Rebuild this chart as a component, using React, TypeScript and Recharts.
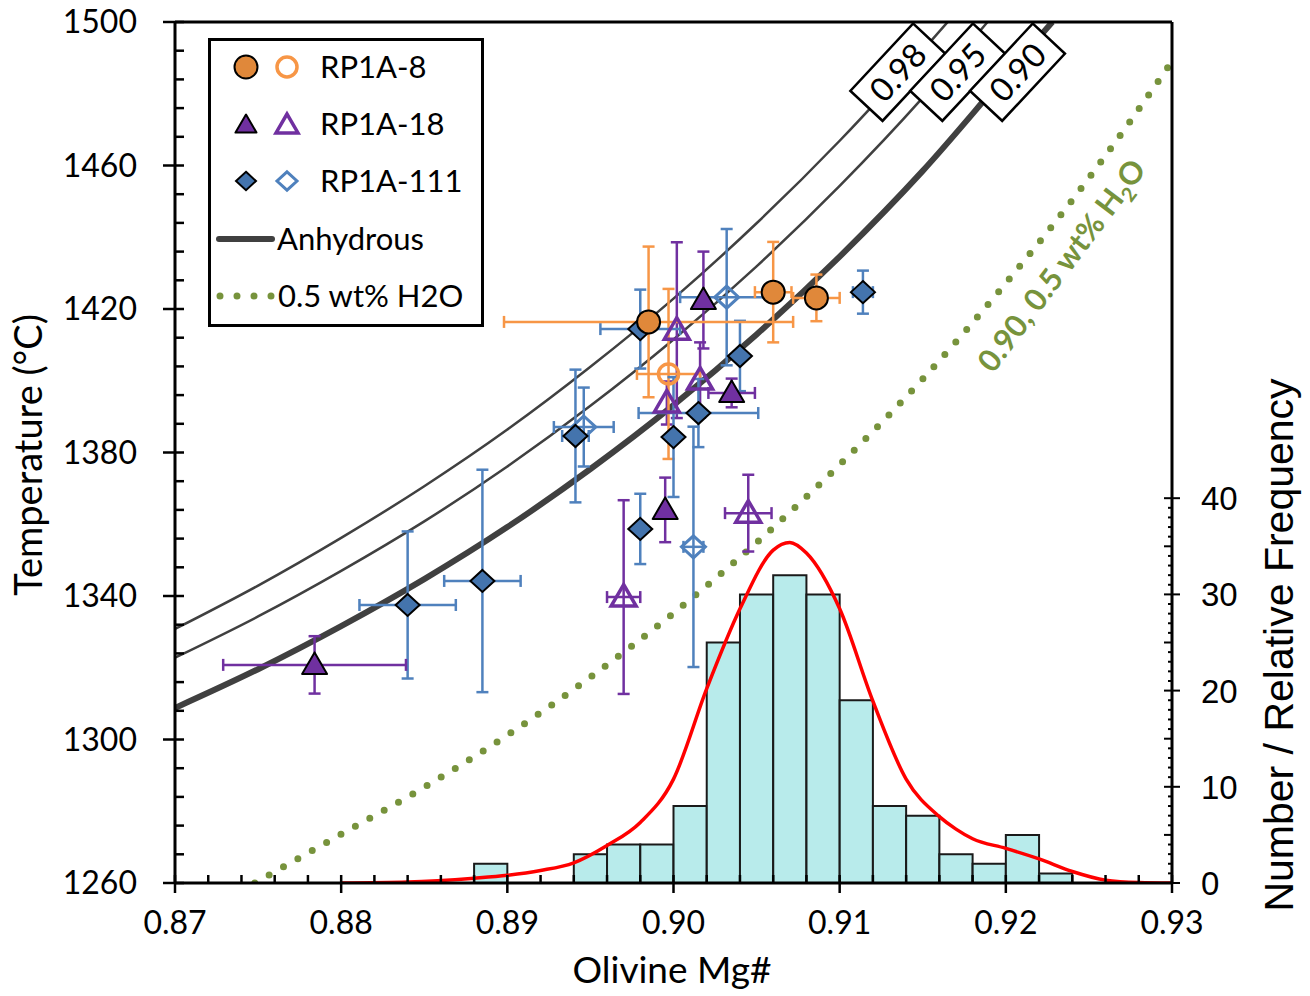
import React from "react";
import {
  ComposedChart,
  XAxis,
  YAxis,
  Line,
  Scatter,
  ErrorBar,
  ReferenceArea,
  ReferenceDot,
  ReferenceLine,
} from "recharts";

const FONT = "Lato, 'Open Sans', sans-serif";
const ARIAL = "'Liberation Sans', Arial, sans-serif";

// axis ticks
const MG_MAJOR = [0.87, 0.88, 0.89, 0.9, 0.91, 0.92, 0.93];
const T_MAJOR = [1260, 1300, 1340, 1380, 1420, 1460, 1500];
const FREQ_MAJOR = [0, 10, 20, 30, 40];
const mgTicks = Array.from({ length: 31 }, (_, i) => Math.round((0.87 + i * 0.002) * 1000) / 1000);
const tTicks = Array.from({ length: 31 }, (_, i) => 1260 + i * 8);
const freqTicks = Array.from({ length: 41 }, (_, i) => i);

// anhydrous equilibrium curves (olivine Fo 0.98 / 0.95 / 0.90)
const fo98Mg = [0.87, 0.875, 0.88, 0.885, 0.89, 0.895, 0.9, 0.905, 0.91, 0.915, 0.9165];
const fo98T = [1330.8, 1342.9, 1356.2, 1370.6, 1386.4, 1403.9, 1422.9, 1443.9, 1466.9, 1492.1, 1500];
const fo95Mg = [0.87, 0.875, 0.88, 0.885, 0.89, 0.895, 0.9, 0.905, 0.91, 0.915, 0.9189];
const fo95T = [1322.8, 1334.3, 1347.0, 1360.8, 1376.1, 1393.0, 1411.5, 1431.9, 1454.3, 1478.9, 1500];
const fo90Mg = [0.87, 0.875, 0.88, 0.885, 0.89, 0.895, 0.9, 0.905, 0.91, 0.915, 0.92, 0.9228];
const fo90T = [1308.8, 1319.6, 1331.6, 1344.7, 1359.2, 1375.4, 1393.2, 1412.9, 1434.6, 1458.5, 1485.2, 1500];
// 0.90 with 0.5 wt% H2O
const wetMg = [0.8748, 0.88, 0.885, 0.89, 0.895, 0.9, 0.905, 0.91, 0.915, 0.92, 0.925, 0.93];
const wetT = [1260, 1273.6, 1286.7, 1301.2, 1317.4, 1335.2, 1354.9, 1376.6, 1400.5, 1427.2, 1456.5, 1489];

// histogram of olivine Mg# (bin start, 0.002 wide)
const binStart = [0.888, 0.894, 0.896, 0.898, 0.9, 0.902, 0.904, 0.906, 0.908, 0.91, 0.912, 0.914, 0.916, 0.918, 0.92, 0.922];
const binCount = [2, 3, 4, 4, 8, 25, 30, 32, 30, 19, 8, 7, 3, 2, 5, 1];
const BIN = 0.002;

// relative frequency curve
const kdeMg = [0.88, 0.884, 0.888, 0.89, 0.892, 0.894, 0.896, 0.898, 0.9, 0.902, 0.904, 0.906, 0.907, 0.908, 0.91, 0.912, 0.914, 0.916, 0.917, 0.918, 0.92, 0.922, 0.924, 0.926, 0.928, 0.93];
const kdeF = [0, 0.1, 0.5, 0.8, 1.3, 2.1, 3.9, 6.3, 10.8, 20.2, 28.5, 34.6, 35.4, 34.3, 28.5, 18.9, 10.8, 6.9, 5.6, 4.6, 3.6, 2.5, 1.2, 0.3, 0.05, 0];

// samples: Mg#, T, +/- Mg#, +/- T
const rp8Filled = [
  { x: 0.8985, t: 1416.4, ex: 0.0087, et: 21 },
  { x: 0.906, t: 1424.7, ex: 0.0011, et: 14 },
  { x: 0.9086, t: 1423.1, ex: 0.0014, et: 6.5 },
];
const rp8Open = [{ x: 0.8997, t: 1401.9, ex: 0.0019, et: 23.7 }];
const rp18Filled = [
  { x: 0.8784, t: 1320.8, ex: 0.0055, et: 8 },
  { x: 0.9018, t: 1422.5, ex: 0, et: 13.5 },
  { x: 0.9035, t: 1396.6, ex: 0.0014, et: 4 },
  { x: 0.8995, t: 1364.0, ex: 0, et: 9 },
];
const rp18Open = [
  { x: 0.9002, t: 1414.1, ex: 0, et: 24.5 },
  { x: 0.9016, t: 1400.2, ex: 0, et: 10.5 },
  { x: 0.8996, t: 1393.8, ex: 0, et: 6 },
  { x: 0.897, t: 1339.7, ex: 0.001, et: 27 },
  { x: 0.9045, t: 1363.1, ex: 0.0014, et: 10.7 },
];
const rp111Filled = [
  { x: 0.884, t: 1337.5, ex: 0.0029, et: 20.5 },
  { x: 0.8885, t: 1344.2, ex: 0.0023, et: 31 },
  { x: 0.8941, t: 1384.6, ex: 0.0008, et: 18.5 },
  { x: 0.898, t: 1414.4, ex: 0.0024, et: 11 },
  { x: 0.9, t: 1384.3, ex: 0, et: 16.7 },
  { x: 0.898, t: 1358.7, ex: 0, et: 9.8 },
  { x: 0.9015, t: 1391.0, ex: 0.0036, et: 9.5 },
  { x: 0.904, t: 1406.9, ex: 0, et: 9.8 },
  { x: 0.9114, t: 1424.7, ex: 0.0006, et: 6 },
];
const rp111Open = [
  { x: 0.9032, t: 1423.3, ex: 0.0028, et: 19 },
  { x: 0.8946, t: 1387.1, ex: 0.0018, et: 11 },
  { x: 0.9012, t: 1353.7, ex: 0.0006, et: 33.5 },
];

// curve labels
const curveLabels = [
  { x: 0.9135, t: 1486, text: "0.98" },
  { x: 0.9171, t: 1486, text: "0.95" },
  { x: 0.9207, t: 1486, text: "0.90" },
];

const toPts = (xs: number[], ys: number[], key: string) => xs.map((x, i) => ({ x, [key]: ys[i] }));

const ORANGE = "#F79646";
const PURPLE = "#7030A0";
const BLUE = "#4F81BD";
const GREEN = "#77933C";
const CURVE = "#404040";

function CircleMark({ cx, cy, filled }: any) {
  return filled ? (
    <circle cx={cx} cy={cy} r={11.5} fill="#E0883A" stroke="#000" strokeWidth={2} />
  ) : (
    <circle cx={cx} cy={cy} r={10} fill="none" stroke={ORANGE} strokeWidth={3.5} />
  );
}

function TriMark({ cx, cy, filled, s = 12.5 }: any) {
  const pts = `${cx},${cy - s} ${cx - s},${cy + s * 0.72} ${cx + s},${cy + s * 0.72}`;
  return filled ? (
    <polygon points={pts} fill={PURPLE} stroke="#000" strokeWidth={2} strokeLinejoin="round" />
  ) : (
    <polygon points={pts} fill="none" stroke={PURPLE} strokeWidth={3.5} />
  );
}

function DiaMark({ cx, cy, filled, s = 12 }: any) {
  const pts = `${cx},${cy - s * 0.92} ${cx + s},${cy} ${cx},${cy + s * 0.92} ${cx - s},${cy}`;
  return filled ? (
    <polygon points={pts} fill="#4474AD" stroke="#000" strokeWidth={2} />
  ) : (
    <polygon points={pts} fill="none" stroke={BLUE} strokeWidth={3} />
  );
}

function MgTick(props: any) {
  const { x, y, payload } = props;
  const v = payload.value;
  const major = MG_MAJOR.some((m) => Math.abs(m - v) < 1e-6);
  return (
    <g>
      <line x1={x} x2={x} y1={y - 8} y2={major ? y + 10 : y} stroke="#000" strokeWidth={2.5} />
      {major && (
        <text x={x} y={y + 51} textAnchor="middle" fontSize={32} fontFamily={FONT} fill="#000">
          {v.toFixed(2)}
        </text>
      )}
    </g>
  );
}

function TTick(props: any) {
  const { x, y, payload } = props;
  const v = payload.value;
  const major = T_MAJOR.includes(v);
  return (
    <g>
      <line x1={major ? x - 12 : x} x2={x + 9} y1={y} y2={y} stroke="#000" strokeWidth={2.5} />
      {major && (
        <text x={x - 38} y={y + 11} textAnchor="end" fontSize={32} fontFamily={FONT} fill="#000">
          {v}
        </text>
      )}
    </g>
  );
}

function FreqTick(props: any) {
  const { x, y, payload } = props;
  const v = payload.value;
  const major = FREQ_MAJOR.includes(v);
  const mid = v % 5 === 0;
  return (
    <g>
      <line x1={major || mid ? x - 8 : x - 4} x2={major ? x + 8 : x} y1={y} y2={y} stroke="#000" strokeWidth={2} />
      {major && (
        <text x={x + 29} y={y + 12} textAnchor="start" fontSize={33} fontFamily={ARIAL} fill="#000">
          {v}
        </text>
      )}
    </g>
  );
}

function CurveLabel(props: any) {
  const { cx, cy, text } = props;
  return (
    <g transform={`translate(${cx},${cy}) rotate(-47)`}>
      <rect x={-46} y={-22} width={92} height={44} fill="#fff" stroke="#000" strokeWidth={2.5} />
      <text x={0} y={12} textAnchor="middle" fontSize={33} fontFamily={FONT} fill="#000">
        {text}
      </text>
    </g>
  );
}

function WetLabel(props: any) {
  const { cx, cy } = props;
  return (
    <g transform={`translate(${cx},${cy}) rotate(-53)`}>
      <text x={0} y={10} textAnchor="middle" fontSize={31} fontWeight="bold" fontFamily={FONT} fill={GREEN}>
        0.90, 0.5 wt% H
        <tspan fontSize={20} dy={7}>2</tspan>
        <tspan dy={-7}>O</tspan>
      </text>
    </g>
  );
}

function Legend() {
  const rows = [67, 124, 181, 239, 296];
  const txt = { fontSize: 31, fontFamily: FONT, fill: "#000" };
  return (
    <g>
      <rect x={209.5} y={39.5} width={273} height={286} fill="#fff" stroke="#000" strokeWidth={3} />
      <CircleMark cx={246} cy={rows[0]} filled />
      <CircleMark cx={287} cy={rows[0]} />
      <text x={320} y={rows[0] + 11} {...txt}>RP1A-8</text>
      <TriMark cx={246} cy={rows[1] + 1} filled s={10.5} />
      <TriMark cx={287} cy={rows[1] + 1} s={11} />
      <text x={320} y={rows[1] + 11} {...txt}>RP1A-18</text>
      <DiaMark cx={246} cy={rows[2]} filled s={10} />
      <DiaMark cx={287} cy={rows[2]} s={10} />
      <text x={320} y={rows[2] + 11} {...txt}>RP1A-111</text>
      <line x1={219} x2={272} y1={rows[3]} y2={rows[3]} stroke={CURVE} strokeWidth={6} strokeLinecap="round" />
      <text x={277} y={rows[3] + 11} {...txt}>Anhydrous</text>
      <line x1={220} x2={275} y1={rows[4]} y2={rows[4]} stroke={GREEN} strokeWidth={7} strokeLinecap="round" strokeDasharray="0 17" />
      <text x={278} y={rows[4] + 11} {...txt}>0.5 wt% H2O</text>
    </g>
  );
}

function SampleScatter({ data, color, shape }: any) {
  return (
    <Scatter data={data} dataKey="t" yAxisId="left" isAnimationActive={false} shape={shape}>
      <ErrorBar dataKey="ex" direction="x" width={6} stroke={color} strokeWidth={2.5} isAnimationActive={false} />
      <ErrorBar dataKey="et" direction="y" width={6} stroke={color} strokeWidth={2.5} isAnimationActive={false} />
    </Scatter>
  );
}

export default function App() {
  return (
    <div style={{ position: "relative", width: 1310, height: 996, background: "#fff" }}>
      <style>{"body{margin:0}"}</style>
      <ComposedChart width={1310} height={996} margin={{ top: 22, right: 38, bottom: 53, left: 75 }}>
        <XAxis
          type="number"
          dataKey="x"
          domain={[0.87, 0.93]}
          allowDataOverflow
          ticks={mgTicks}
          interval={0}
          height={60}
          tickSize={0}
          tickMargin={0}
          tickLine={false}
          axisLine={{ stroke: "#000", strokeWidth: 3 }}
          tick={<MgTick />}
        />
        <YAxis
          yAxisId="left"
          type="number"
          domain={[1260, 1500]}
          allowDataOverflow
          ticks={tTicks}
          interval={0}
          width={100}
          tickSize={0}
          tickMargin={0}
          tickLine={false}
          axisLine={{ stroke: "#000", strokeWidth: 3 }}
          tick={<TTick />}
        />
        <YAxis
          yAxisId="right"
          orientation="right"
          type="number"
          domain={[0, 89.5]}
          allowDataOverflow
          ticks={freqTicks}
          interval={0}
          width={100}
          tickSize={0}
          tickMargin={0}
          tickLine={false}
          axisLine={{ stroke: "#000", strokeWidth: 3 }}
          tick={<FreqTick />}
        />

        {binStart.map((lo, i) => (
          <ReferenceArea
            key={i}
            yAxisId="right"
            x1={lo}
            x2={Math.round((lo + BIN) * 1000) / 1000}
            y1={0}
            y2={binCount[i]}
            fill="#A6E6E6"
            fillOpacity={0.8}
            stroke="#1a1a1a"
            strokeWidth={2}
            ifOverflow="visible"
          />
        ))}

        <Line yAxisId="right" data={toPts(kdeMg, kdeF, "f")} dataKey="f" type="monotone" stroke="#FF0000" strokeWidth={3.5} dot={false} activeDot={false} isAnimationActive={false} />
        <Line yAxisId="left" data={toPts(fo98Mg, fo98T, "t")} dataKey="t" type="monotone" stroke={CURVE} strokeWidth={2.5} dot={false} activeDot={false} isAnimationActive={false} />
        <Line yAxisId="left" data={toPts(fo95Mg, fo95T, "t")} dataKey="t" type="monotone" stroke={CURVE} strokeWidth={2.5} dot={false} activeDot={false} isAnimationActive={false} />
        <Line yAxisId="left" data={toPts(fo90Mg, fo90T, "t")} dataKey="t" type="monotone" stroke={CURVE} strokeWidth={6} dot={false} activeDot={false} isAnimationActive={false} />
        <Line yAxisId="left" data={toPts(wetMg, wetT, "t")} dataKey="t" type="monotone" stroke={GREEN} strokeWidth={7} strokeLinecap="round" strokeDasharray="0 16.5" dot={false} activeDot={false} isAnimationActive={false} />

        {SampleScatter({ data: rp111Open, color: BLUE, shape: (p: any) => <DiaMark cx={p.cx} cy={p.cy} /> })}
        {SampleScatter({ data: rp18Open, color: PURPLE, shape: (p: any) => <TriMark cx={p.cx} cy={p.cy} /> })}
        {SampleScatter({ data: rp8Open, color: ORANGE, shape: (p: any) => <CircleMark cx={p.cx} cy={p.cy} /> })}
        {SampleScatter({ data: rp111Filled, color: BLUE, shape: (p: any) => <DiaMark cx={p.cx} cy={p.cy} filled /> })}
        {SampleScatter({ data: rp18Filled, color: PURPLE, shape: (p: any) => <TriMark cx={p.cx} cy={p.cy} filled /> })}
        {SampleScatter({ data: rp8Filled, color: ORANGE, shape: (p: any) => <CircleMark cx={p.cx} cy={p.cy} filled /> })}

        {curveLabels.map((c) => (
          <ReferenceDot key={c.text} yAxisId="left" x={c.x} y={c.t} ifOverflow="visible" shape={(p: any) => <CurveLabel {...p} text={c.text} />} />
        ))}
        <ReferenceDot yAxisId="left" x={0.9234} y={1432} ifOverflow="visible" shape={(p: any) => <WetLabel {...p} />} />
        <ReferenceLine yAxisId="left" y={1500} stroke="#000" strokeWidth={3} />
      </ComposedChart>

      <svg width={1310} height={996} style={{ position: "absolute", left: 0, top: 0, pointerEvents: "none" }}>
        <Legend />
        <text x={672} y={983} textAnchor="middle" fontSize={37} fontFamily={FONT} fill="#000">
          Olivine Mg#
        </text>
        <text transform="translate(42,455) rotate(-90)" textAnchor="middle" fontSize={38} fontFamily={FONT} fill="#000">
          Temperature (°C)
        </text>
        <text transform="translate(1293,645) rotate(-90)" textAnchor="middle" fontSize={41} fontFamily={ARIAL} fill="#000">
          Number / Relative Frequency
        </text>
      </svg>
    </div>
  );
}
